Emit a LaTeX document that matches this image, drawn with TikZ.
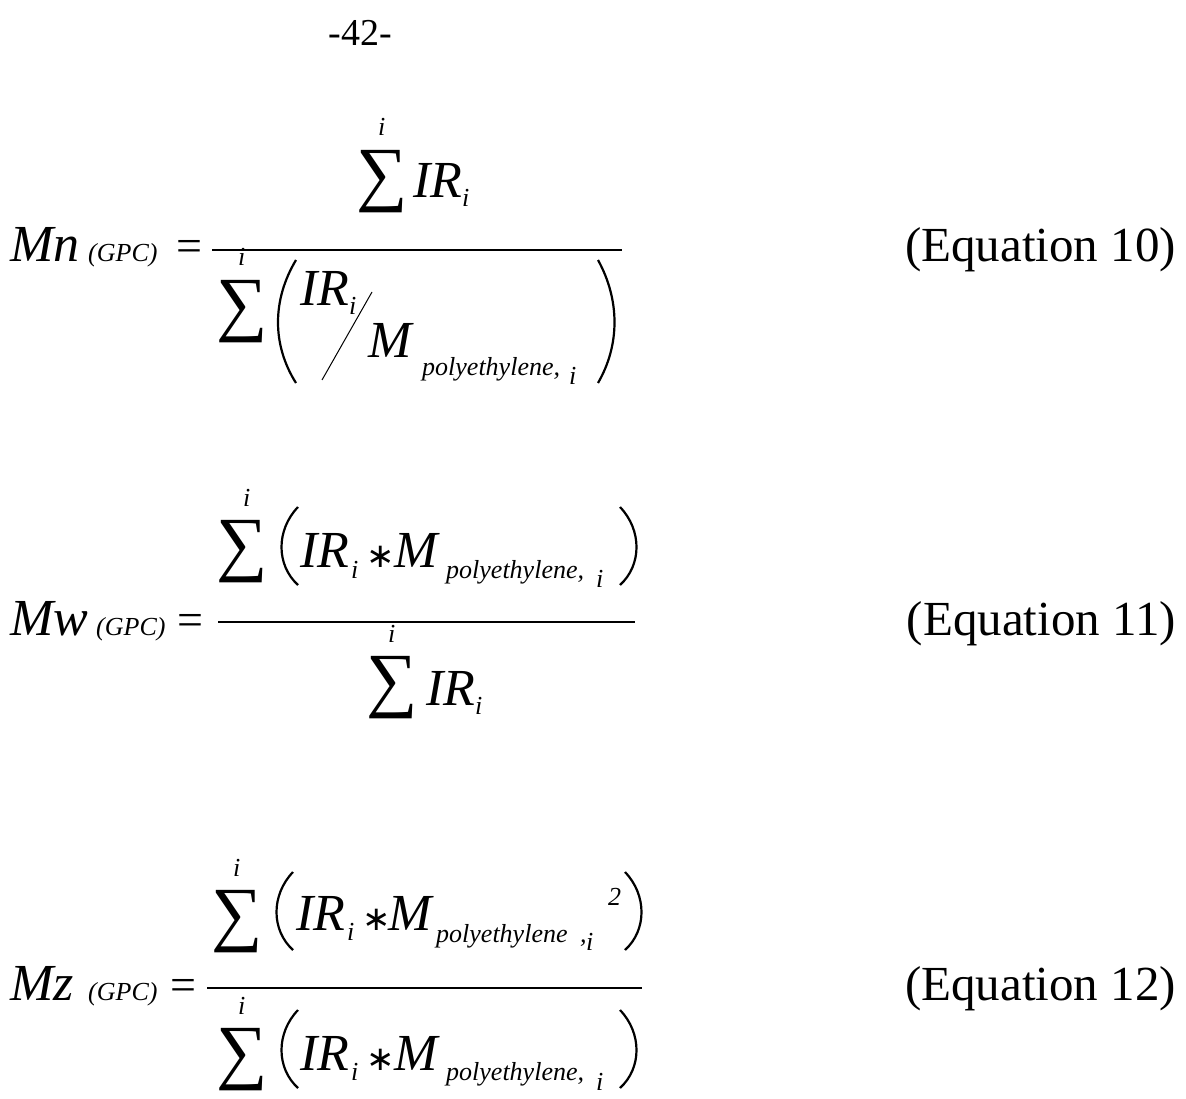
\documentclass[tikz,border=0pt]{standalone}
\usepackage{fontspec}
\setmainfont{Liberation Serif}
\newfontfamily\dvs{DejaVu Sans}
\tikzset{
 t/.style={inner sep=0pt,anchor=base west},
 big/.style={t,font=\fontsize{52}{52}\selectfont\itshape},
 ast/.style={t,font=\fontsize{34}{34}\selectfont\dvs},
 eqn/.style={inner sep=0pt,anchor=base east,font=\fontsize{49}{49}\selectfont},
 sm/.style={t,font=\fontsize{26}{26}\selectfont\itshape},
 sig/.style={inner sep=0pt,anchor=north west,font=\fontsize{72}{72}\selectfont},
 par/.style={line width=2.2pt},
 fr/.style={line width=1.6pt}
}
\begin{document}
\begin{tikzpicture}[x=1pt,y=-1pt]
\useasboundingbox[fill=white] (0,0) rectangle (1186,1099);
\node[inner sep=0pt,anchor=base,font=\fontsize{38}{38}\selectfont] (pg) at (360,46) {-42-};
% Eq 10
\node[big] (mn) at (10,262) {Mn};
\node[sm] (g1) at (88,262) {(GPC)};
\node[inner sep=0pt,anchor=base,font=\fontsize{46}{46}\selectfont] (e1) at (189,262) {=};
\draw[fr] (212,250) -- (622,250);
\node[sig] (s1) at (356,150) {∑};
\node[sm] (i1) at (378,136) {i};
\node[big] (n1) at (413,198) {IR};
\node[sm] (n1i) at (462,207) {i};
\node[sig] (s2) at (216,280) {∑};
\node[sm] (i2) at (238,266) {i};
\draw[par] (296,260) .. controls (272,300) and (272,345) .. (296,383);
\node[big] (d1) at (300,306) {IR};
\node[sm] (d1i) at (349,315) {i};
\draw[line width=1pt] (322,380) -- (372,292);
\node[big] (d1m) at (368,357) {M};
\node[sm] (d1p) at (422,375) {polyethylene,};
\node[sm] (d1pi) at (569,384) {i};
\draw[par] (598,260) .. controls (620,300) and (620,345) .. (598,383);
\node[eqn] (q1) at (1176,262) {(Equation 10)};
% Eq 11
\node[big] (mw) at (10,635) {Mw};
\node[sm] (g2) at (96,635) {(GPC)};
\node[inner sep=0pt,anchor=base,font=\fontsize{46}{46}\selectfont] (e2) at (190,635) {=};
\draw[fr] (218,622) -- (635,622);
\node[sig] (s3) at (216,520) {∑};
\node[sm] (i3) at (243,506) {i};
\draw[par] (298,507) .. controls (276,530) and (276,565) .. (298,585);
\node[big] (n2) at (300,567) {IR};
\node[ast] (n2a) at (366,567) {∗};
\node[big] (n2m) at (394,567) {M};
\node[sm] (n2i) at (351,578) {i};
\node[sm] (n2p) at (446,578) {polyethylene,};
\node[sm] (n2pi) at (596,587) {i};
\draw[par] (620,507) .. controls (642,530) and (642,565) .. (620,585);
\node[sig] (s4) at (366,656) {∑};
\node[sm] (i4) at (388,642) {i};
\node[big] (dd2) at (426,705) {IR};
\node[sm] (dd2i) at (475,714) {i};
\node[eqn] (q2) at (1176,635) {(Equation 11)};
% Eq 12
\node[big] (mz) at (10,1000) {Mz};
\node[sm] (g3) at (88,1000) {(GPC)};
\node[inner sep=0pt,anchor=base,font=\fontsize{46}{46}\selectfont] (e3) at (183,1000) {=};
\draw[fr] (207,988) -- (642,988);
\node[sig] (s5) at (211,890) {∑};
\node[sm] (i5) at (233,876) {i};
\draw[par] (293,872) .. controls (271,895) and (271,930) .. (293,950);
\node[big] (n3) at (296,930) {IR};
\node[ast] (n3a) at (362,930) {∗};
\node[big] (n3m) at (388,930) {M};
\node[sm] (n3i) at (347,940) {i};
\node[sm] (n3p) at (436,942) {polyethylene};
\node[sm] (n3c) at (580,942) {,};
\node[sm] (n3pi) at (586,950) {i};
\node[sm] (n3s) at (608,905) {2};
\draw[par] (625,872) .. controls (647,895) and (647,930) .. (625,950);
\node[sig] (s6) at (216,1028) {∑};
\node[sm] (i6) at (238,1014) {i};
\draw[par] (298,1010) .. controls (276,1033) and (276,1068) .. (298,1088);
\node[big] (d3) at (300,1070) {IR};
\node[ast] (d3a) at (366,1070) {∗};
\node[big] (d3m) at (394,1070) {M};
\node[sm] (d3i) at (351,1080) {i};
\node[sm] (d3p) at (446,1080) {polyethylene,};
\node[sm] (d3pi) at (596,1090) {i};
\draw[par] (620,1010) .. controls (642,1033) and (642,1068) .. (620,1088);
\node[eqn] (q3) at (1176,1000) {(Equation 12)};
\end{tikzpicture}
\end{document}
